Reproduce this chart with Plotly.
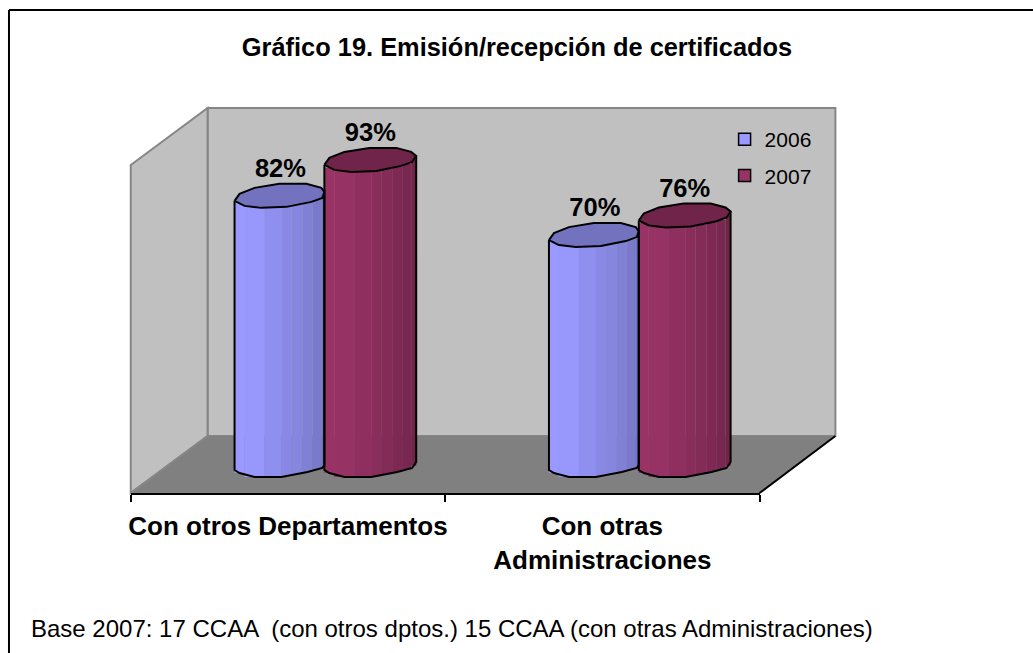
# Packages:
import numpy as np
import plotly.graph_objects as go

# Data:
categories = ["Con otros Departamentos", "Con otras<br>Administraciones"]
years = ["2006", "2007"]
values_2006 = [82, 70]
values_2007 = [93, 76]
title_text = "<b>Gráfico 19. Emisión/recepción de certificados</b>"
note_text = "Base 2007: 17 CCAA  (con otros dptos.) 15 CCAA (con otras Administraciones)"

# Figure size and scales:
W, H = 1033, 653
px_x = 1 / 315    # axis units per pixel
px_y = 1 / 3.27
y_min, y_max = -7.34, 110.4
depth_shift = 36.5    # bars stand further back than the front axis line

# Cylinder look, offsets in pixels from the left edge of the cylinder:
cap_dx = np.array([0, 5, 20, 45, 72, 87, 92, 88, 77, 52, 27, 10, 0])
cap_dy = np.array([0, -7, -13, -17, -17, -13, -9, -3, 1, 6, 7, 5, 0])
low_dx = [0, 10, 27, 52, 77, 88, 92]
low_dy = [0, 5, 7, 6, 1, -3, -9]
bot_dx = np.array([0, 5, 20, 47, 73, 88, 92])
bot_dy = np.array([1, 4, 8, 8, 3, -1, -7])
strip_edges = np.array([0, 10, 30, 47, 57, 68, 78, 87, 92])
strip_shade = [0.0, 0.05, 0.25, 0.4, 0.5, 0.65, 0.8, 1.0]

colors_light = {"2006": (153, 153, 255), "2007": (153, 51, 102)}
colors_dark = {"2006": (114, 114, 191), "2007": (112, 36, 74)}
offsets = {"2006": -90 + depth_shift, "2007": depth_shift}    # left edge from the category centre
clip_width = {"2006": 90, "2007": 92}


def mix(c1, c2, t):
    return "rgb(" + ",".join(str(int(round(a + (b - a) * t))) for a, b in zip(c1, c2)) + ")"


def px(x):
    return x / W


def py(y):
    return 1 - y / H


def poly(points):
    return "M " + " L ".join(f"{px(x)},{py(y)}" for x, y in points) + " Z"


fig = go.Figure()

# Cylinders:
for year, vals in zip(years, [values_2006, values_2007]):
    light, dark = colors_light[year], colors_dark[year]
    width = clip_width[year]
    for i, v in enumerate(vals):
        left = i + offsets[year] * px_x
        edges = np.minimum(strip_edges, width)
        mids = (edges[:-1] + edges[1:]) / 2
        widths = edges[1:] - edges[:-1]
        tops = v - np.interp(mids, low_dx, low_dy) * px_y
        bases = -np.interp(mids, bot_dx, bot_dy) * px_y
        fig.add_trace(go.Bar(
            x = left + mids * px_x,
            y = tops - bases,
            base = bases,
            width = widths * px_x * 1.02,
            marker = dict(color = [mix(light, dark, t) for t in strip_shade], line = dict(width = 0)),
            name = year,
            showlegend = False,
            hoverinfo = "skip"
        ))

for year, vals in zip(years, [values_2006, values_2007]):
    width = clip_width[year]
    for i, v in enumerate(vals):
        left = i + offsets[year] * px_x
        # Outline of the body
        keep = bot_dx <= width
        out_dx = np.concatenate([[0], bot_dx[keep], [width, width]])
        out_dy = np.concatenate([[0], bot_dy[keep], [np.interp(width, bot_dx, bot_dy), np.interp(width, cap_dx[:7], cap_dy[:7])]])
        out_y = -out_dy * px_y
        out_y[0] = v
        out_y[-1] = v - out_dy[-1] * px_y
        fig.add_trace(go.Scatter(
            x = left + out_dx * px_x,
            y = out_y,
            mode = "lines",
            line = dict(color = "black", width = 2),
            showlegend = False,
            hoverinfo = "skip"
        ))
        # Top of the cylinder
        fig.add_trace(go.Scatter(
            x = left + np.minimum(cap_dx, width) * px_x,
            y = v - cap_dy * px_y,
            mode = "lines",
            fill = "toself",
            fillcolor = mix(colors_dark[year], colors_dark[year], 0),
            line = dict(color = "black", width = 2),
            showlegend = False,
            hoverinfo = "skip"
        ))

# Data labels:
for year, vals in zip(years, [values_2006, values_2007]):
    fig.add_trace(go.Scatter(
        x = [i + (offsets[year] + 46) * px_x for i in range(len(vals))],
        y = [v + 30 * px_y for v in vals],
        mode = "text",
        text = [f"<b>{v}%</b>" for v in vals],
        textposition = "middle center",
        textfont = dict(size = 25.5, color = "black"),
        showlegend = False,
        hoverinfo = "skip"
    ))

# Legend:
for year in years:
    fig.add_trace(go.Scatter(
        x = [None],
        y = [None],
        mode = "markers",
        name = year,
        legendgroup = year,
        marker = dict(symbol = "square", size = 12, color = mix(colors_light[year], colors_light[year], 0),
                      line = dict(color = "black", width = 1.5))
    ))

# Walls, floor and frame:
gray_line = dict(color = "#868686", width = 2)
shapes = [
    dict(type = "path", path = poly([(206, 108), (835, 108), (835, 436), (206, 436)]),
         fillcolor = "#C0C0C0", line = gray_line),
    dict(type = "path", path = poly([(129, 165), (206, 108), (206, 436), (129, 493)]),
         fillcolor = "#C0C0C0", line = gray_line),
    dict(type = "path", path = poly([(129, 493), (206, 436), (835, 436), (759, 493)]),
         fillcolor = "#808080", line = dict(width = 0)),
    dict(type = "line", x0 = px(129), y0 = py(493), x1 = px(206), y1 = py(436),
         line = gray_line),
    dict(type = "line", x0 = px(759), y0 = py(493), x1 = px(835), y1 = py(436),
         line = dict(color = "black", width = 2)),
    dict(type = "line", x0 = px(7), y0 = py(10), x1 = px(1033), y1 = py(10),
         line = dict(color = "black", width = 2)),
    dict(type = "line", x0 = px(7), y0 = py(10), x1 = px(7), y1 = py(653),
         line = dict(color = "black", width = 2))
]
for s in shapes:
    s.update(xref = "paper", yref = "paper", layer = "below")

fig.update_layout(
    width = W,
    height = H,
    autosize = False,
    margin = dict(l = 0, r = 0, t = 0, b = 0),
    paper_bgcolor = "white",
    plot_bgcolor = "rgba(0,0,0,0)",
    font = dict(family = "Liberation Sans, Arial, sans-serif", color = "black"),
    barmode = "overlay",
    shapes = shapes,
    title = dict(text = title_text, font = dict(size = 25.4), xref = "paper", x = 516 / W,
                 xanchor = "center", yref = "paper", y = py(47), yanchor = "middle"),
    legend = dict(x = px(724), y = py(119), xanchor = "left", yanchor = "top",
                  bgcolor = "rgba(0,0,0,0)", font = dict(size = 21), tracegroupgap = 6,
                  itemwidth = 30),
    annotations = [dict(text = note_text, xref = "paper", yref = "paper", x = px(27), y = py(628),
                        xanchor = "left", yanchor = "middle", showarrow = False,
                        font = dict(size = 24))],
    xaxis = dict(
        domain = [px(129), px(759)],
        range = [-0.5, 1.5],
        tickmode = "array",
        tickvals = [0, 1],
        ticktext = [f"<b>{c}</b>" for c in categories],
        tickangle = 0,
        tickfont = dict(size = 26),
        ticks = "",
        ticklabelstandoff = 9,
        showgrid = False,
        zeroline = False,
        showline = True,
        linecolor = "black",
        linewidth = 2,
        minor = dict(tickmode = "array", tickvals = [-0.5, 0.5, 1.5], ticks = "outside",
                     ticklen = 7, tickwidth = 2, tickcolor = "black", showgrid = False)
    ),
    yaxis = dict(
        domain = [py(493), py(108)],
        range = [y_min, y_max],
        visible = False
    )
)

# The page has a default margin of 8 px, take it away
fig.write_html("out.html", config = dict(displayModeBar = False),
               post_script = "document.body.style.margin = '0';")
